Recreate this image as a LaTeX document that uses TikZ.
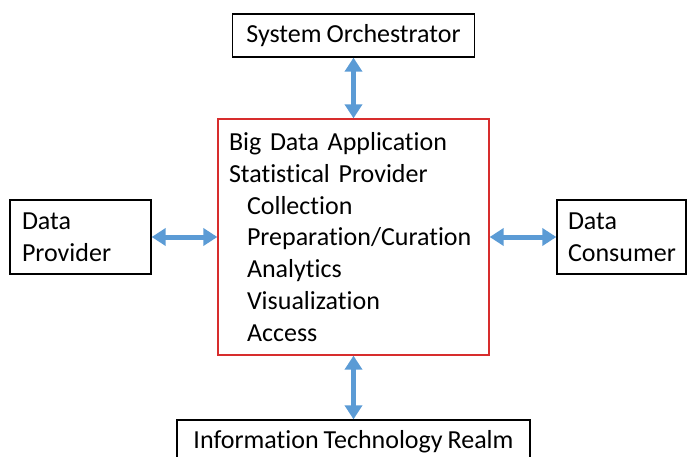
\documentclass[tikz,border=0pt]{standalone}
\usepackage{fontspec}
\setmainfont{Carlito}[Ligatures={NoCommon}, WordSpace={0.85,0,0}]
\usetikzlibrary{arrows.meta}
\definecolor{linkblue}{RGB}{91,155,213}
\definecolor{appred}{RGB}{215,45,45}

\begin{document}
\begin{tikzpicture}[x=1pt, y=-1pt,
  >={Triangle[length=14pt, width=17pt]},
  role/.style={draw, line width=1.3pt, font=\fontsize{26}{31.7}\selectfont,
    inner sep=0pt},
  sidebox/.style={role, align=left, minimum height=74pt},
  link/.style={<->, draw=linkblue, fill=linkblue, line width=5pt}]
\useasboundingbox (0,0) rectangle (687,457);
\node[role, minimum width=242pt, minimum height=43pt] (orch) at (353.5,35.5)
  {System Orchestrator};
\node[role, draw=appred, align=left, text width=249pt, minimum height=236pt,
  inner xsep=11pt] (app) at (353.5,237)
  {Big Data Application\\
   Statistical Provider\\
   \hspace*{18pt}Collection\\
   \hspace*{18pt}Preparation/Curation\\
   \hspace*{18pt}Analytics\\
   \hspace*{18pt}Visualization\\
   \hspace*{18pt}Access};
\node[sidebox, text width=117pt, inner xsep=12pt] (prov) at (80.5,237)
  {Data\\Provider};
\node[sidebox, text width=107pt, inner xsep=11pt] (cons) at (621.5,237)
  {Data\\Consumer};
\node[role, minimum width=353pt, minimum height=43pt] (itr) at (353.5,441.5)
  {Information Technology Realm};
\foreach \a/\b in {orch/app, prov/app, app/cons, app/itr}
  \draw[link] (\a) -- (\b);
\end{tikzpicture}
\end{document}
